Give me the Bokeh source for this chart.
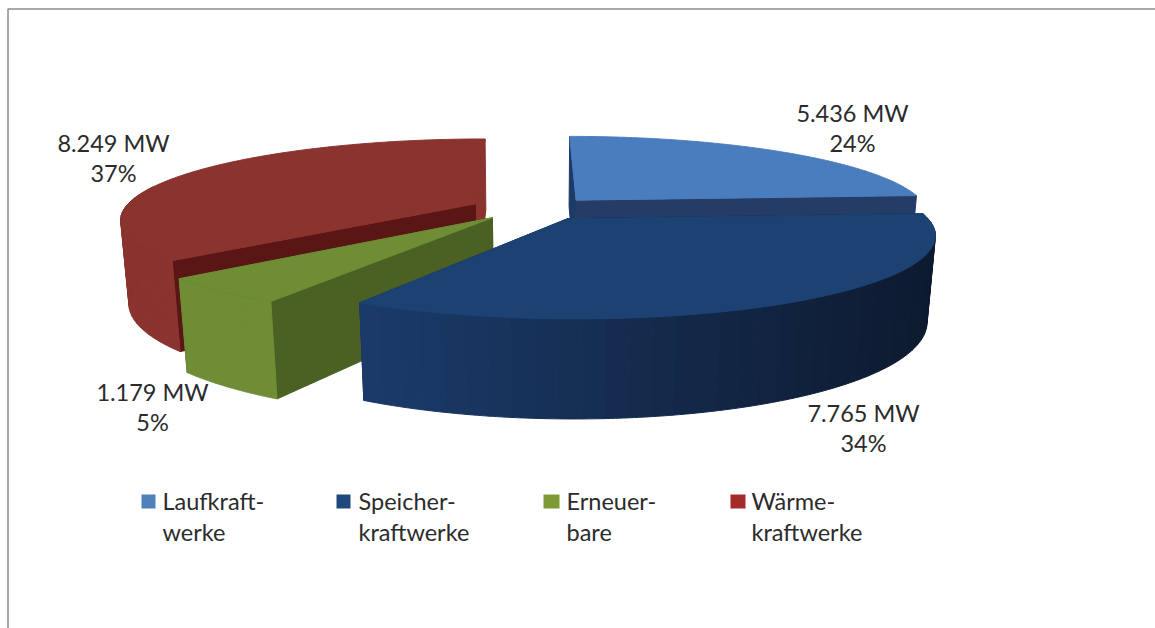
import numpy as np
from bokeh.embed import file_html
from bokeh.models import ColumnDataSource, Range1d
from bokeh.plotting import figure
from bokeh.resources import INLINE
from bokeh.core.properties import value

# Installed capacity per power plant type
categories = ["Laufkraftwerke", "Speicherkraftwerke", "Erneuerbare", "Wärmekraftwerke"]
legend_lines = [["Laufkraft-", "werke"], ["Speicher-", "kraftwerke"], ["Erneuer-", "bare"], ["Wärme-", "kraftwerke"]]
capacity_mw = [5436, 7765, 1179, 8249]
share_labels = ["24%", "34%", "5%", "37%"]
capacity_labels = ["5.436 MW", "7.765 MW", "1.179 MW", "8.249 MW"]

# Colours: legend key, top face, start wall, end wall, outer wall (left -> right end of the gradient)
key_colors = ["#4f81bd", "#1f497d", "#7d9a35", "#a52a2a"]
top_colors = ["#4a7dbd", "#1c4274", "#6e8d35", "#8a332f"]
start_wall = ["#1d3a66", "#12264a", "#4b6124", "#5a1515"]
end_wall = ["#253d66", "#12264a", "#4b6124", "#8a332f"]
outer_left = ["#253d66", "#1b3b6b", "#6e8d35", "#8a332f"]
outer_right = ["#253d66", "#0d1a2f", "#6e8d35", "#8a332f"]
outer_strips = [1, 40, 8, 60]

# Perspective pie geometry
CX, CY = 533.0, 208.0
RX, RY, HZ = 352.0, 78.0, 84.0
K_DEPTH, K_HEIGHT = 0.18, 0.02
EXPLODE_X, EXPLODE_Y = 0.18, 0.15
W, H = 1155, 628


def project(x, y, z):
    w = 1 + K_DEPTH * y - K_HEIGHT * z
    return CX + RX * x / w, CY + (-RY * y - HZ * z) / w


def mix(a, b, t):
    ca = [int(a[i:i + 2], 16) for i in (1, 3, 5)]
    cb = [int(b[i:i + 2], 16) for i in (1, 3, 5)]
    return "#%02x%02x%02x" % tuple(round(p + (q - p) * t) for p, q in zip(ca, cb))


total = sum(capacity_mw)
edges = np.cumsum([0] + capacity_mw) / total * 2 * np.pi

p = figure(width=W, height=H, x_range=Range1d(0, W), y_range=Range1d(H, 0),
           output_backend="svg", toolbar_location=None, min_border=0,
           outline_line_color=None, background_fill_color="white")
p.axis.visible = False
p.grid.visible = False

faces = {"xs": [], "ys": [], "color": []}


def add_face(px, py, color):
    faces["xs"].append(list(px))
    faces["ys"].append(list(py))
    faces["color"].append(color)


# Back slices are painted first so the front ones cover them
for i in [3, 0, 2, 1]:
    a0, a1 = edges[i], edges[i + 1]
    mid = (a0 + a1) / 2
    ox, oy = EXPLODE_X * np.sin(mid), EXPLODE_Y * np.cos(mid)
    theta = np.linspace(a0, a1, 241)
    rim_x, rim_y = ox + np.sin(theta), oy + np.cos(theta)

    # Radial walls
    for ang, col in ((a0, start_wall[i]), (a1, end_wall[i])):
        ex, ey = ox + np.sin(ang), oy + np.cos(ang)
        sx = [project(ox, oy, 0)[0], project(ex, ey, 0)[0], project(ex, ey, -1)[0], project(ox, oy, -1)[0]]
        sy = [project(ox, oy, 0)[1], project(ex, ey, 0)[1], project(ex, ey, -1)[1], project(ox, oy, -1)[1]]
        add_face(sx, sy, col)

    # Outer wall, near side only; strips carry the horizontal shading
    tx, ty = project(rim_x, rim_y, 0)
    bx, by = project(rim_x, rim_y, -1)
    x_lo, x_hi = tx.min(), tx.max()
    cuts = np.linspace(0, len(theta) - 1, outer_strips[i] + 1).astype(int)
    for c0, c1 in zip(cuts[:-1], cuts[1:]):
        if np.cos((theta[c0] + theta[c1]) / 2) > 0.25:
            continue
        t = ((tx[c0] + tx[c1]) / 2 - x_lo) / max(x_hi - x_lo, 1)
        add_face([*tx[c0:c1 + 1], *bx[c0:c1 + 1][::-1]], [*ty[c0:c1 + 1], *by[c0:c1 + 1][::-1]],
                 mix(outer_left[i], outer_right[i], t))

    # Top face
    ax, ay = project(ox, oy, 0)
    add_face([ax, *tx], [ay, *ty], top_colors[i])

src = ColumnDataSource(faces)
p.patches("xs", "ys", source=src, fill_color="color", line_color="color", line_width=1)

# Frame lines on the top and left
frame_x = [7.5, 7.5, W]
frame_y = [H, 8.5, 8.5]
p.line(frame_x, frame_y, line_color="#8c8c8c", line_width=1.5)

FONT = value("Lato")
TEXT = "#2b2b2b"
SIZE = "23.5px"

# Data labels
label_x = [852, 863, 152, 113]
label_y = [112, 412, 391, 142]
p.text(label_x, label_y, text=capacity_labels, text_font=FONT, text_font_size=SIZE,
       text_color=TEXT, text_align="center", text_baseline="middle")
p.text(label_x, [y + 30 for y in label_y], text=share_labels, text_font=FONT, text_font_size=SIZE,
       text_color=TEXT, text_align="center", text_baseline="middle")

# Legend
key_x = [148, 343, 551, 737.5]
key_w = [14, 14, 16, 15]
legend_x = [162, 358, 566, 751]
p.rect(key_x, [501] * 4, width=key_w, height=14, fill_color=key_colors, line_color=None)
for k in range(2):
    p.text(legend_x, [500 + 31 * k] * 4, text=[l[k] for l in legend_lines], text_font=FONT,
           text_font_size=SIZE, text_color=TEXT, text_align="left", text_baseline="middle")

open("out.html", "w").write(file_html(p, INLINE))
